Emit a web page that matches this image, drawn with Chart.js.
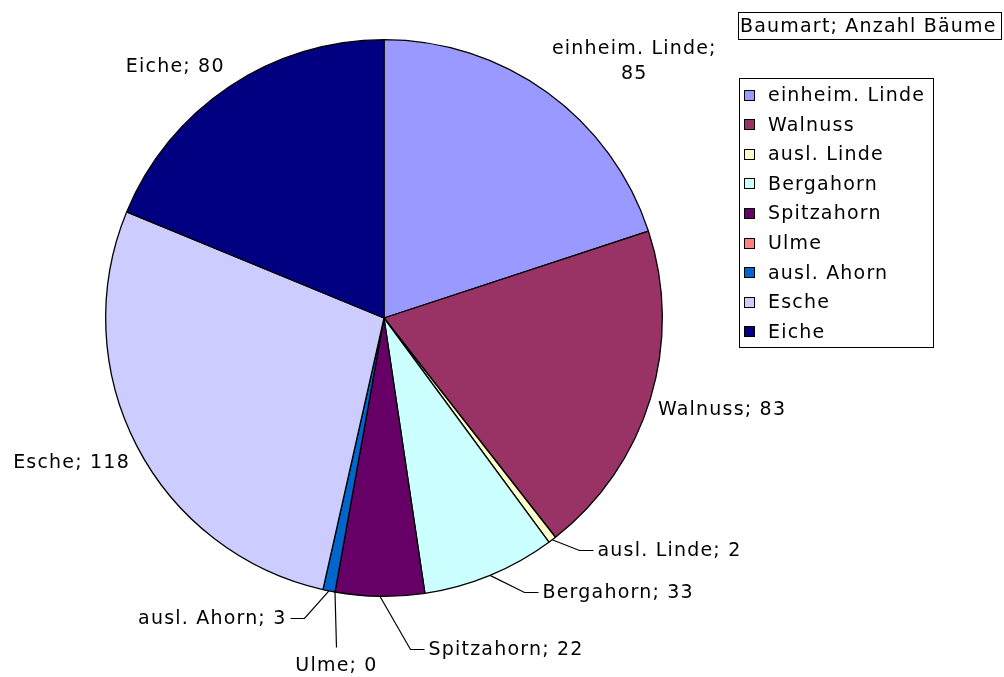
<!DOCTYPE html>
<html>
<head>
<meta charset="utf-8">
<script src="https://cdn.jsdelivr.net/npm/chart.js@4"></script>
<style>
  html, body { margin: 0; padding: 0; background: #fff; }
  #wrap { width: 1004px; height: 677px; }
</style>
</head>
<body>
<div id="wrap"><canvas id="pie-chart" width="1004" height="677"></canvas></div>
<script>
const baumarten = ['einheim. Linde', 'Walnuss', 'ausl. Linde', 'Bergahorn', 'Spitzahorn', 'Ulme', 'ausl. Ahorn', 'Esche', 'Eiche'];
const anzahl = [85, 83, 2, 33, 22, 0, 3, 118, 80];
const farben = ['#9999FF', '#993366', '#FFFFCC', '#CCFFFF', '#660066', '#FF8080', '#0066CC', '#CCCCFF', '#000080'];
const titel = 'Baumart; Anzahl Bäume';

// where each data label goes: auto = just outside the slice,
// line = leader line to an elbow (extra radius, angle shift in degrees), then sideways
const labelLayout = [
    { mode: 'auto', wrap: true },
    { mode: 'auto' },
    { mode: 'line', extra: 25, da: -2.8, side: 1 },
    { mode: 'line', extra: 29, da: -4.6, side: 1 },
    { mode: 'line', extra: 54, da: -5.3, side: 1 },
    { mode: 'below', extra: 54, da: -1.8 },
    { mode: 'line', extra: 32, da: 3.6, side: -1 },
    { mode: 'auto' },
    { mode: 'auto' }
];

const FONT = '19px "DejaVu Sans", Verdana, sans-serif';
const SPACING = '1.2px';

function clamp(v) { return Math.max(-1, Math.min(1, v)); }

const labelPlugin = {
    id: 'labels',
    afterDraw(chart) {
        const ctx = chart.ctx;
        const arcs = chart.getDatasetMeta(0).data;
        ctx.save();
        ctx.font = FONT;
        ctx.letterSpacing = SPACING;
        ctx.fillStyle = '#000';
        ctx.strokeStyle = '#000';
        ctx.lineWidth = 1.2;
        ctx.textBaseline = 'middle';

        arcs.forEach((arc, i) => {
            const cx = arc.x, cy = arc.y, r = arc.outerRadius;
            const mid = (arc.startAngle + arc.endAngle) / 2; // canvas angle
            const lay = labelLayout[i];
            const text = baumarten[i] + '; ' + anzahl[i];

            if (lay.mode === 'auto') {
                const lines = lay.wrap ? [baumarten[i] + ';', String(anzahl[i])] : [text];
                const lh = 25;
                const w = Math.max(...lines.map(l => ctx.measureText(l).width));
                const h = lines.length * lh;
                const px = cx + (r + 8) * Math.cos(mid);
                const py = cy + (r + 8) * Math.sin(mid);
                const bx = px + w / 2 * clamp(2.5 * Math.cos(mid));
                const by = py + h / 2 * clamp(2.5 * Math.sin(mid));
                ctx.textAlign = 'center';
                lines.forEach((l, k) => {
                    ctx.fillText(l, bx, by - h / 2 + lh * (k + 0.5));
                });
                return;
            }

            const sx = cx + r * Math.cos(mid);
            const sy = cy + r * Math.sin(mid);
            const ang = mid + lay.da * Math.PI / 180;
            const ex = Math.round(cx + (r + lay.extra) * Math.cos(ang)) + 0.5;
            const ey = Math.round(cy + (r + lay.extra) * Math.sin(ang)) + 0.5;

            ctx.beginPath();
            ctx.moveTo(sx, sy);
            ctx.lineTo(ex, ey);
            if (lay.mode === 'below') {
                ctx.stroke();
                ctx.textAlign = 'center';
                ctx.fillText(text, ex, ey + 19);
                return;
            }
            const dir = lay.side;
            ctx.lineTo(ex + dir * 14, ey);
            ctx.stroke();
            ctx.textAlign = dir > 0 ? 'left' : 'right';
            ctx.fillText(text, ex + dir * 18, ey + 1);
        });

        // title box
        ctx.lineWidth = 1;
        ctx.textAlign = 'left';
        const tw = ctx.measureText(titel).width;
        ctx.strokeRect(738.5, 12.5, Math.round(tw) + 6, 27);
        ctx.fillText(titel, 740, 27);

        // legend box
        ctx.strokeRect(739.5, 78.5, 194, 269);
        baumarten.forEach((name, i) => {
            const yc = 95 + i * 29.6;
            ctx.fillStyle = farben[i];
            ctx.fillRect(744, Math.round(yc - 5.5), 11, 11);
            ctx.strokeRect(744.5, Math.round(yc - 5.5) + 0.5, 10, 10);
            ctx.fillStyle = '#000';
            ctx.fillText(name, 768, yc + 1);
        });
        ctx.restore();
    }
};

new Chart(document.getElementById('pie-chart'), {
    type: 'pie',
    data: {
        labels: baumarten,
        datasets: [{
            data: anzahl,
            backgroundColor: farben,
            borderColor: '#000',
            borderWidth: 1.3
        }]
    },
    options: {
        responsive: false,
        animation: false,
        devicePixelRatio: 1,
        layout: { padding: { left: 105, top: 39, right: 341, bottom: 80 } },
        plugins: {
            legend: { display: false },
            tooltip: { enabled: false }
        }
    },
    plugins: [labelPlugin]
});
</script>
</body>
</html>
